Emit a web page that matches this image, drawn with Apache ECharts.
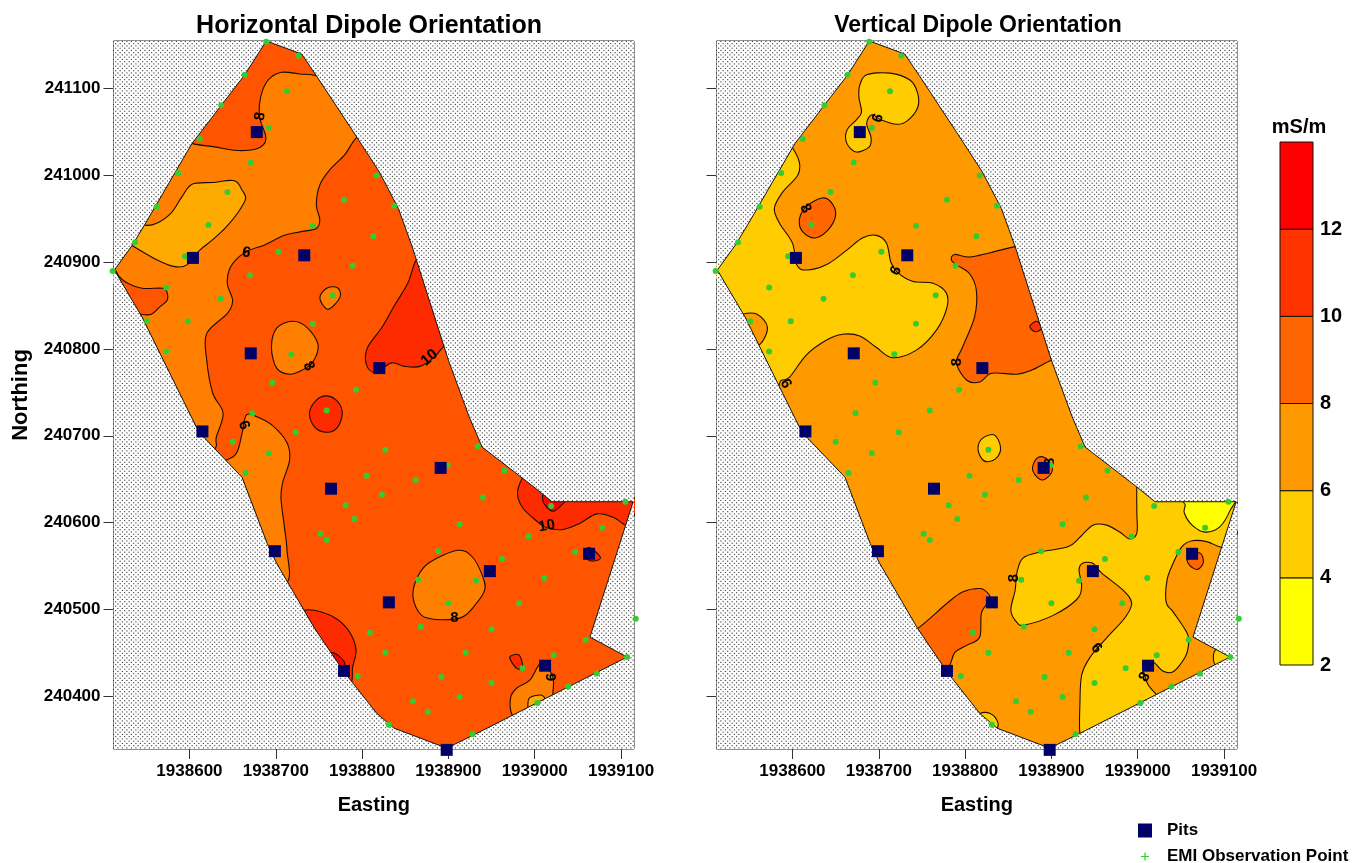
<!DOCTYPE html>
<html>
<head>
<meta charset="utf-8">
<title>Dipole Orientation EMI maps</title>
<script src="https://cdn.jsdelivr.net/npm/echarts@6/dist/echarts.min.js"></script>
<style>html,body{margin:0;padding:0;background:#fff}#chart{width:1364px;height:863px}</style>
</head>
<body>
<div id="chart"></div>
<script>
// All map values are [easting - eastingBase, northing - northingBase]
const eastingBase = 1938000;
const northingBase = 240000;
const eastingTicks = [1938600, 1938700, 1938800, 1938900, 1939000, 1939100];
const northingTicks = [240400, 240500, 240600, 240700, 240800, 240900, 241000, 241100];
const legendBreaks = [2, 4, 6, 8, 10, 12, 14];
const legendTicks = [2, 4, 6, 8, 10, 12];

const sitePts = [[689,1155],[730,1140],[747,1115],[794,1044],[820,1004],[842,962],[858,918],[900,787],[924,722],[939,687],[999,641],[1020,624],[1114,624],[1064,468],[1107,445],[933,357],[898,340],[837,363],[817,380],[779,428],[745,478],[701,553],[690,576],[661,652],[615,700],[608,710],[545,837],[513,891],[534,920],[548,943],[603,1037],[664,1116]];

const pits = [[678,1050],[604,905],[733,908],[671,795],[820,778],[615,705],[891,663],[764,639],[699,567],[948,544],[1063,564],[831,508],[1012,435],[779,429],[898,338]];

const emiPoints = [[689,1154],[726,1138],[664,1116],[713,1097],[637,1081],[692,1055],[612,1042],[671,1015],[587,1003],[817,1000],[644,981],[779,972],[837,965],[562,964],[622,943],[743,942],[813,930],[537,923],[703,912],[595,907],[789,896],[670,885],[511,890],[573,871],[636,858],[766,862],[551,832],[598,832],[743,829],[573,797],[718,794],[696,761],[793,753],[759,729],[673,726],[723,704],[650,693],[827,684],[692,680],[665,657],[805,654],[823,632],[781,620],[791,604],[752,587],[759,580],[934,688],[862,649],[899,666],[965,660],[940,629],[1019,619],[1105,624],[913,598],[1078,594],[993,584],[888,567],[962,558],[1047,566],[865,534],[932,533],[1011,536],[900,507],[982,507],[868,480],[950,477],[1117,489],[809,473],[1059,465],[1107,445],[827,450],[920,450],[1022,447],[986,432],[795,423],[892,422],[950,415],[1072,426],[1039,411],[859,394],[913,399],[1003,392],[876,382],[831,367],[928,356]];

// Each contour band: [index of band colour, outline vertices]
const horizontalBaseBand = 3;
const horizontalBands = [
 [2,[[603,1037],[629,1033],[652,1029],[675,1030],[687,1037],[688,1047],[682,1064],[681,1081],[685,1099],[693,1112],[707,1119],[728,1117],[747,1115],[768,1104],[815,1052],[794,1044],[780,1024],[762,1006],[751,989],[747,966],[751,949],[747,939],[728,935],[710,931],[687,920],[670,914],[656,905],[646,891],[644,874],[650,856],[644,841],[620,818],[620,787],[627,749],[639,726],[631,698],[630,686],[612,678],[525,856],[512,891],[588,1047]]],
 [1,[[548,943],[562,945],[579,957],[591,975],[603,990],[627,992],[652,994],[661,983],[665,973],[656,957],[643,941],[627,926],[612,914],[597,897],[583,895],[562,903],[534,919],[521,926],[542,951]]],
 [3,[[512,893],[519,883],[528,876],[545,870],[569,870],[574,865],[574,856],[565,848],[556,840],[544,840],[525,845]]],
 [2,[[751,859],[759,870],[771,871],[775,862],[768,851],[759,846]]],
 [2,[[695,802],[701,824],[719,832],[736,825],[749,805],[743,785],[731,776],[716,771],[701,778]]],
 [4,[[739,726],[747,741],[759,746],[772,739],[777,725],[771,709],[759,704],[745,710]]],
 [2,[[643,672],[655,681],[661,703],[666,724],[678,722],[696,712],[713,692],[716,672],[708,646],[706,628],[710,595],[713,568],[713,531],[675,531],[612,660]]],
 [4,[[863,903],[853,876],[838,851],[823,825],[806,801],[805,782],[815,773],[834,784],[849,780],[867,780],[884,791],[897,805],[916,810],[878,908]]],
 [4,[[733,499],[753,497],[772,488],[786,473],[793,453],[789,433],[786,413],[762,407],[716,488]]],
 [5,[[762,450],[772,447],[780,436],[768,418],[753,439]]],
 [2,[[859,514],[864,537],[878,554],[911,568],[928,560],[940,537],[942,522],[931,505],[916,491],[890,488],[869,493]]],
 [4,[[986,652],[980,634],[986,617],[1003,601],[1014,594],[1033,592],[1052,599],[1072,610],[1091,606],[1107,596],[1113,603],[1114,629],[1029,629],[994,660]]],
 [5,[[1009,628],[1012,620],[1021,613],[1031,620],[1036,627],[1029,632],[1012,637]]],
 [4,[[1064,571],[1076,560],[1070,556],[1062,557],[1058,566]]],
 [4,[[971,444],[977,448],[983,446],[986,433],[979,432]]],
 [2,[[974,378],[972,398],[979,409],[994,418],[1003,433],[1009,439],[1021,422],[1021,403],[1021,390],[994,355]]],
 [1,[[992,387],[994,398],[1008,401],[1012,393],[1006,378],[992,378]]]
];

const verticalBaseBand = 2;
const verticalBands = [
 [1,[[678,1104],[686,1116],[713,1118],[736,1110],[745,1095],[745,1078],[733,1063],[721,1059],[703,1064],[692,1070],[686,1060],[691,1044],[689,1033],[674,1027],[663,1037],[663,1052],[674,1064],[680,1073],[677,1090]]],
 [1,[[600,1032],[608,1015],[606,1000],[588,980],[579,962],[585,945],[600,922],[605,897],[616,891],[639,897],[663,914],[681,928],[697,931],[709,922],[714,900],[721,889],[739,878],[762,876],[778,865],[779,848],[767,822],[744,799],[716,790],[697,802],[678,815],[658,817],[639,810],[616,793],[597,768],[587,764],[573,759],[512,880],[512,900],[591,1041]]],
 [2,[[542,840],[559,840],[571,825],[562,805],[544,805],[533,833]]],
 [3,[[608,949],[616,964],[634,974],[645,969],[650,954],[641,937],[626,928],[612,935]]],
 [3,[[784,903],[788,909],[805,906],[829,911],[858,918],[877,920],[921,793],[900,787],[878,776],[860,771],[831,772],[817,762],[802,764],[790,784],[797,802],[811,837],[813,868],[805,887],[790,897]]],
 [4,[[875,826],[883,832],[889,824],[881,820]]],
 [1,[[815,686],[820,697],[834,701],[841,687],[837,675],[826,670],[819,674]]],
 [3,[[878,663],[883,674],[892,675],[900,666],[900,657],[890,649],[881,655]]],
 [1,[[999,641],[999,611],[999,588],[991,581],[979,589],[964,597],[948,597],[933,583],[919,572],[887,566],[867,559],[860,542],[858,522],[853,499],[860,485],[869,482],[902,493],[929,511],[935,526],[932,545],[936,553],[948,553],[958,542],[983,522],[993,507],[985,490],[964,467],[945,445],[935,424],[933,390],[933,357],[939,344],[1026,390],[1022,401],[1011,415],[1006,438],[1018,439],[1029,429],[1041,428],[1055,445],[1059,461],[1057,473],[1041,497],[1033,508],[1034,534],[1041,553],[1051,572],[1063,579],[1080,578],[1095,572],[1109,571],[1114,624],[1020,629],[1002,647]]],
 [1,[[1090,453],[1090,436],[1109,436],[1109,453]]],
 [0,[[1055,620],[1054,611],[1063,597],[1078,589],[1095,595],[1107,614],[1110,629],[1055,629]]],
 [3,[[1058,559],[1072,565],[1076,554],[1069,546],[1060,551]]],
 [3,[[745,478],[779,507],[797,520],[817,524],[826,519],[829,511],[819,496],[817,468],[803,459],[788,450],[780,433],[759,430],[730,476]]],
 [1,[[817,380],[829,380],[837,372],[837,363],[823,355],[808,372]]]
];

// Contour value labels: [easting offset, northing offset, text, turn in degrees]
const horizontalLabels = [[682,1068,'8',80],[666,911,'6',-10],[738,780,'8',-60],[663,712,'6',-70],[878,790,'10',40],[1014,596,'10',10],[907,490,'8',0],[1020,422,'6',90]];
const verticalLabels = [[699,1066,'6',70],[615,962,'8',-60],[720,890,'6',60],[592,760,'6',-60],[791,785,'8',90],[857,536,'8',90],[952,455,'6',-50],[1008,422,'8',60],[898,670,'8',90]];

const bandColoursH = ['#FFD400', '#FFAA00', '#FF8000', '#FF5500', '#FF2B00', '#FF0000'];
const bandColoursV = ['#FFFF00', '#FFCC00', '#FF9900', '#FF6600', '#FF3300', '#FF0000'];

const FONT = '"Liberation Sans", Arial, sans-serif';

function stippleTile() {
  const c = document.createElement('canvas');
  c.width = 9; c.height = 9;
  const g = c.getContext('2d');
  g.fillStyle = '#ffffff'; g.fillRect(0, 0, 9, 9);
  g.fillStyle = '#444444';
  for (let i = 0; i < 2; i++) {
    for (let j = 0; j < 2; j++) {
      [[0.9, 0.9], [3.15, 3.15]].forEach(o => {
        g.beginPath();
        g.arc(o[0] + i * 4.5, o[1] + j * 4.5, 0.68, 0, Math.PI * 2);
        g.fill();
      });
    }
  }
  return c;
}
const tile = stippleTile();

function toPx(api, p) { return api.coord([eastingBase + p[0], northingBase + p[1]]); }

function smoothPath(pts) {
  const n = pts.length;
  let d = 'M' + pts[0][0].toFixed(2) + ' ' + pts[0][1].toFixed(2);
  for (let i = 0; i < n; i++) {
    const p0 = pts[(i - 1 + n) % n], p1 = pts[i], p2 = pts[(i + 1) % n], p3 = pts[(i + 2) % n];
    const c1 = [p1[0] + (p2[0] - p0[0]) / 6, p1[1] + (p2[1] - p0[1]) / 6];
    const c2 = [p2[0] - (p3[0] - p1[0]) / 6, p2[1] - (p3[1] - p1[1]) / 6];
    d += 'C' + c1[0].toFixed(2) + ' ' + c1[1].toFixed(2) + ' ' + c2[0].toFixed(2) + ' ' + c2[1].toFixed(2) + ' ' + p2[0].toFixed(2) + ' ' + p2[1].toFixed(2);
  }
  return d + 'Z';
}

function mapSeries(idx, bands, baseBand, colours, labels) {
  const anchor = p => [eastingBase + p[0], northingBase + p[1]];
  const common = { type: 'custom', coordinateSystem: 'cartesian2d', xAxisIndex: idx, yAxisIndex: idx, silent: true, clip: false, encode: { x: 0, y: 1 }, animation: false };
  return [
    Object.assign({}, common, {
      z: 2,
      data: [anchor(sitePts[0])],
      renderItem: (params, api) => ({
        type: 'polygon',
        shape: { points: sitePts.map(p => toPx(api, p)) },
        style: { fill: colours[baseBand] }
      })
    }),
    Object.assign({}, common, {
      z: 3,
      clip: true,
      data: bands.map((b, i) => anchor(b[1][0]).concat(i)),
      renderItem: (params, api) => {
        const b = bands[api.value(2)];
        return {
          type: 'path',
          shape: { pathData: smoothPath(b[1].map(p => toPx(api, p))) },
          style: { fill: colours[b[0]], stroke: '#1a0a00', lineWidth: 1.1 }
        };
      }
    }),
    Object.assign({}, common, {
      z: 4,
      data: [anchor(sitePts[0])],
      renderItem: (params, api) => {
        const g = params.coordSys;
        const x0 = g.x, y0 = g.y, x1 = g.x + g.width, y1 = g.y + g.height;
        const hole = sitePts.map(p => toPx(api, p));
        const rev = hole.slice().reverse();
        const holePath = 'M' + rev.map(p => p[0].toFixed(2) + ' ' + p[1].toFixed(2)).join('L') + 'Z';
        const mask = 'M' + x0 + ' ' + y0 + 'L' + x1 + ' ' + y0 + 'L' + x1 + ' ' + y1 + 'L' + x0 + ' ' + y1 + 'Z' + holePath;
        return {
          type: 'group',
          children: [
            { type: 'path', shape: { pathData: mask }, style: { fill: { image: tile, repeat: 'repeat' } } },
            { type: 'polygon', shape: { points: hole }, style: { fill: 'none', stroke: '#111', lineWidth: 1 } }
          ]
        };
      }
    }),
    Object.assign({}, common, {
      z: 5,
      data: labels.map((l, i) => [eastingBase + l[0], northingBase + l[1], i]),
      renderItem: (params, api) => {
        const l = labels[api.value(2)];
        const c = toPx(api, l);
        return {
          type: 'text', x: c[0], y: c[1], rotation: l[3] * Math.PI / 180,
          style: { text: l[2], fill: '#000', font: 'bold 15px ' + FONT, align: 'center', verticalAlign: 'middle' }
        };
      }
    }),
    {
      name: 'EMI Observation Point', type: 'scatter', xAxisIndex: idx, yAxisIndex: idx, z: 6, clip: false, silent: true,
      symbol: 'circle', symbolSize: 6, itemStyle: { color: '#33CC33', opacity: 1 },
      data: emiPoints.map(anchor)
    },
    {
      name: 'Pits', type: 'scatter', xAxisIndex: idx, yAxisIndex: idx, z: 7, clip: false, silent: true,
      symbol: 'rect', symbolSize: 12, itemStyle: { color: '#000066', opacity: 1 },
      data: pits.map(anchor)
    }
  ];
}

function xAxisFor(idx) {
  return {
    gridIndex: idx, type: 'value', min: 1938512, max: 1939115,
    name: 'Easting', nameLocation: 'middle', nameGap: 46,
    nameTextStyle: { fontFamily: FONT, fontWeight: 'bold', fontSize: 20, color: '#000' },
    axisLine: { show: false }, splitLine: { show: false },
    axisTick: { show: true, length: 10, customValues: eastingTicks, lineStyle: { color: '#333', width: 1 } },
    axisLabel: { show: true, customValues: eastingTicks, margin: 14, fontFamily: FONT, fontWeight: 'bold', fontSize: 17, color: '#000', formatter: v => String(v) }
  };
}
function yAxisFor(idx, labelled) {
  return {
    gridIndex: idx, type: 'value', min: 240339, max: 241155,
    name: labelled ? 'Northing' : '', nameLocation: 'middle', nameGap: 82, nameRotate: 90,
    nameTextStyle: { fontFamily: FONT, fontWeight: 'bold', fontSize: 22, color: '#000' },
    axisLine: { show: false }, splitLine: { show: false },
    axisTick: { show: true, length: 10, customValues: northingTicks, lineStyle: { color: '#333', width: 1 } },
    axisLabel: { show: labelled, customValues: northingTicks, margin: 13, fontFamily: FONT, fontWeight: 'bold', fontSize: 17, color: '#000', formatter: v => String(v) }
  };
}

const legendData = legendBreaks.slice(0, -1).map((v, i) => [0, v, 1, legendBreaks[i + 1], i]);

const option = {
  backgroundColor: '#ffffff',
  animation: false,
  title: [
    { text: 'Horizontal Dipole Orientation', left: 364, top: 9, textAlign: 'center', textStyle: { fontFamily: FONT, fontWeight: 'bold', fontSize: 25, color: '#000' } },
    { text: 'Vertical Dipole Orientation', left: 973, top: 9, textAlign: 'center', textStyle: { fontFamily: FONT, fontWeight: 'bold', fontSize: 23, color: '#000' } },
    { text: 'mS/m', left: 1294, top: 112, textAlign: 'center', textStyle: { fontFamily: FONT, fontWeight: 'bold', fontSize: 20, color: '#000' } }
  ],
  grid: [
    { left: 113.5, top: 41, width: 520.5, height: 708, show: true, backgroundColor: 'transparent', borderColor: '#222', borderWidth: 1, containLabel: false },
    { left: 716.5, top: 41, width: 520.5, height: 708, show: true, backgroundColor: 'transparent', borderColor: '#222', borderWidth: 1, containLabel: false },
    { left: 1280, top: 142, width: 33, height: 523, show: false, containLabel: false }
  ],
  xAxis: [xAxisFor(0), xAxisFor(1), { gridIndex: 2, type: 'value', min: 0, max: 1, show: false }],
  yAxis: [yAxisFor(0, true), yAxisFor(1, false), {
    gridIndex: 2, type: 'value', position: 'right', min: 2, max: 14,
    axisLine: { show: false }, axisTick: { show: false }, splitLine: { show: false },
    axisLabel: { show: true, customValues: legendTicks, margin: 7, fontFamily: FONT, fontWeight: 'bold', fontSize: 20, color: '#000' }
  }],
  legend: {
    left: 1138, top: 822, width: 226, height: 44, padding: 0, orient: 'vertical', itemWidth: 14, itemHeight: 14, itemGap: 9, selectedMode: false,
    textStyle: { fontFamily: FONT, fontWeight: 'bold', fontSize: 17, color: '#000', padding: [0, 0, 0, 10] },
    data: [
      { name: 'Pits', icon: 'rect' },
      { name: 'EMI Observation Point', icon: 'path://M0 0L0 0M14 14L14 14M6.4 3H7.6V6.4H11V7.6H7.6V11H6.4V7.6H3V6.4H6.4Z' }
    ]
  },
  series: [
    ...mapSeries(0, horizontalBands, horizontalBaseBand, bandColoursH, horizontalLabels),
    ...mapSeries(1, verticalBands, verticalBaseBand, bandColoursV, verticalLabels),
    {
      type: 'custom', coordinateSystem: 'cartesian2d', xAxisIndex: 2, yAxisIndex: 2, silent: true, clip: false,
      encode: { x: [0, 2], y: [1, 3] },
      data: legendData,
      renderItem: (params, api) => {
        const a = api.coord([api.value(0), api.value(1)]);
        const b = api.coord([api.value(2), api.value(3)]);
        return {
          type: 'rect',
          shape: { x: a[0], y: b[1], width: b[0] - a[0], height: a[1] - b[1] },
          style: { fill: bandColoursV[api.value(4)], stroke: '#111', lineWidth: 1 }
        };
      }
    }
  ]
};
echarts.init(document.getElementById('chart'), null, { renderer: 'canvas' }).setOption(option);
</script>
</body>
</html>
